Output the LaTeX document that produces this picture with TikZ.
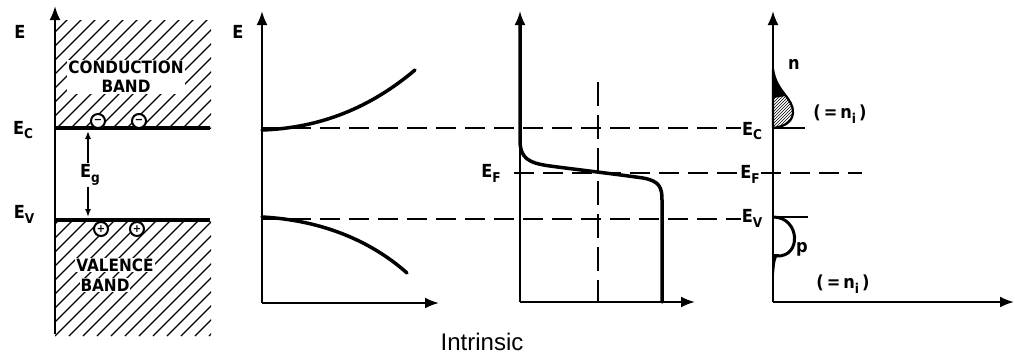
\documentclass[tikz,border=0pt]{standalone}
\usepackage{fontspec}
\setmainfont{Liberation Sans}
\newfontfamily\drawfont{DejaVu Sans Condensed Bold}
\usetikzlibrary{arrows.meta,patterns}
\newcommand\lowsub[1]{\raisebox{-0.5ex}{\fontsize{13.5}{13.5}\selectfont #1}}
\begin{document}
\begin{tikzpicture}[x=1pt,y=-1pt,
 axis/.style={line width=2.2pt,-{Latex[length=14pt,width=11pt]}},
 band/.style={line width=3.5pt},
 thickcurve/.style={line width=3.5pt, line cap=round, line join=round},
 dashline/.style={line width=1.3pt, dash pattern=on 20pt off 9pt},
 hatch/.style={line width=1.1pt},
 lbl/.style={font=\drawfont\fontsize{18}{18}\selectfont, inner sep=1pt},
 bandtxt/.style={font=\drawfont\fontsize{17}{19}\selectfont, fill=white, inner sep=1pt, align=center},
 carrier/.style={circle, draw, line width=2pt, fill=white, minimum size=14pt, inner sep=0pt, font=\drawfont\fontsize{11}{11}\selectfont},
 egarrow/.style={line width=1.4pt,-{Latex[length=8pt,width=6pt]}}
]
\useasboundingbox (0,0) rectangle (1015,354);

% ---------- Panel 1: band diagram ----------
\begin{scope}
\clip (55,20) rectangle (211,128);
\foreach \i in {-12,...,12} \draw[hatch] (55+\i*14,130) -- ++(140,-140);
\end{scope}
\begin{scope}
\clip (55,220) rectangle (211,336);
\foreach \i in {-12,...,12} \draw[hatch] (55+\i*14,336) -- ++(140,-140);
\end{scope}
\coordinate (a1b) at (55,334);
\coordinate (a1t) at (55,6);
\draw[axis] (a1b) -- (a1t);
\coordinate (ecL) at (55,128); \coordinate (ecR) at (210,128);
\coordinate (evL) at (55,220); \coordinate (evR) at (210,220);
\draw[band] (ecL) -- (ecR);
\draw[band] (evL) -- (evR);
\node[bandtxt] (cb) at (126,77) {CONDUCTION\\BAND};
\node[bandtxt] (vb1) at (115,265) {VALENCE};
\node[bandtxt] (vb2) at (105,285) {BAND};
\node[carrier] (m1) at (98,121) {−};
\node[carrier] (m2) at (139,121) {−};
\node[carrier] (p1) at (101,229) {+};
\node[carrier] (p2) at (137,229) {+};
\node[lbl] (E1) at (20,32) {E};
\node[lbl] (Ec1) at (23,130) {E\lowsub{C}};
\node[lbl] (Ev1) at (24,214) {E\lowsub{V}};
\node[lbl] (Eg) at (90,175) {E\lowsub{g}};
\coordinate (egt) at (88,131); \coordinate (egb) at (88,217);
\draw[egarrow] (Eg.north -| egt) -- (egt);
\draw[egarrow] (Eg.south -| egb) -- (egb);

% ---------- Panel 2 ----------
\coordinate (o2) at (262,303);
\node[lbl] (E2) at (238,32) {E};
\draw[axis] (o2) -- (262,11);
\draw[axis] (o2) -- (439,303);
\coordinate (c2s) at (262,130); \coordinate (c2e) at (415,70);
\coordinate (v2s) at (262,217); \coordinate (v2e) at (407,273);
\draw[thickcurve] (c2s) .. controls (320,128) and (370,108) .. (c2e);
\draw[thickcurve] (v2s) .. controls (320,220) and (370,240) .. (v2e);

% ---------- Panel 4 labels ----------
\node[lbl] (Ec4) at (752,131) {E\lowsub{C}};
\node[lbl] (Ef4) at (750,174) {E\lowsub{F}};
\node[lbl] (Ev4) at (752,218) {E\lowsub{V}};

% dashed levels
\coordinate (dEcs) at (262,128); \coordinate (dEvs) at (262,219);
\draw[dashline] (dEcs) -- (Ec4.west |- dEcs);
\draw[dashline] (dEvs) -- (Ev4.west |- dEvs);

% ---------- Panel 3: Fermi function ----------
\coordinate (o3) at (520,302);
\draw[axis] (o3) -- (520,11);
\draw[axis] (o3) -- (695,302);
\node[lbl] (Ef3) at (491,173) {E\lowsub{F}};
\coordinate (dEfs) at (514,173);
\draw[dashline] (dEfs) -- (Ef4.west |- dEfs);
\coordinate (half1) at (598,82); \coordinate (half2) at (598,302);
\draw[line width=1.3pt, dash pattern=on 24pt off 9pt] (half1) -- (half2);
\draw[thickcurve] (520,24) -- (520,140) .. controls (520,158) and (528,163) .. (550,166)
  .. controls (580,170) and (615,174) .. (643,178) .. controls (660,181) and (662,188) .. (662,200) -- (662,302);

% ---------- Panel 4: carrier distributions ----------
\coordinate (o4) at (773,302);
\draw[axis] (o4) -- (773,11);
\draw[axis] (o4) -- (1014,302);
\draw[line width=1.5pt] (773,128) -- (805,128);
\draw[line width=1.5pt] (773,217) -- (808,217);
\draw[dashline] (Ef4.east |- dEfs) -- (862,173);
\draw[line width=2.2pt, pattern=north east lines, line join=round]
  (773,69) .. controls (776,92) and (794,98) .. (793,113) .. controls (792,124) and (781,127) .. (773,128) -- cycle;
\fill (773,69) .. controls (775,82) and (780,90) .. (786,96) -- (773,98) -- cycle;
\draw[line width=3pt] (773,217) .. controls (800,217) and (802,257) .. (777,256);
\fill (779,254) .. controls (775,258) and (775,264) .. (774,274) -- (772,274) -- (772,254) -- cycle;
\node[lbl] (n) at (794,64) {n};
\node[lbl] (ni1) at (840,114) {(\,=\,n\lowsub{i}\,)};
\node[lbl] (p) at (802,249) {p};
\node[lbl] (ni2) at (843,284) {(\,=\,n\lowsub{i}\,)};

% caption
\node[font=\fontsize{24}{24}\selectfont, inner sep=0pt] (cap) at (482,342) {Intrinsic};
\end{tikzpicture}
\end{document}
